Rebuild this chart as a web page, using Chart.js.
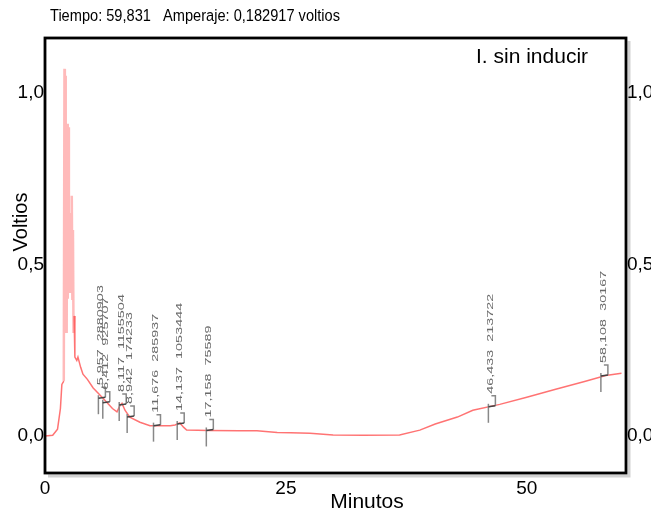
<!DOCTYPE html>
<html>
<head>
<meta charset="utf-8">
<script src="https://cdn.jsdelivr.net/npm/chart.js@4"></script>
<style>
  body { margin: 0; background: #fff; }
</style>
</head>
<body>
<canvas id="chart" width="651" height="513"></canvas>
<script>
// trace: time (min) and voltage (V)
const times = [0, 0.8, 1.3, 1.6, 1.75, 1.95, 2.02, 2.06, 2.1, 2.15, 2.2, 2.25, 2.3, 2.36, 2.42, 2.48, 2.55, 2.6, 2.66, 2.72, 2.78, 2.84, 2.9, 2.96, 3.02, 3.1, 3.3, 3.42, 3.7, 3.94, 4.4, 5.0, 5.5, 6.02, 6.5, 7.0, 7.47, 7.8, 7.99, 8.3, 8.8, 9.85, 10.9, 12, 13, 13.5, 14.0, 14.4, 14.7, 17, 20.2, 22, 24.1, 25.5, 27.5, 29.9, 33, 36.8, 38.9, 40.5, 42.8, 44.4, 47.2, 50, 53, 56, 58.2, 59.831];
const volts = [0, 0.002, 0.02, 0.08, 0.15, 0.16, 1.07, 0.3, 1.05, 0.35, 0.9, 0.3, 0.91, 0.4, 0.9, 0.45, 0.62, 0.42, 0.65, 0.45, 0.7, 0.4, 0.6, 0.3, 0.35, 0.23, 0.22, 0.23, 0.2, 0.18, 0.165, 0.14, 0.125, 0.11, 0.095, 0.08, 0.07, 0.09, 0.095, 0.075, 0.055, 0.04, 0.03, 0.03, 0.03, 0.032, 0.038, 0.025, 0.017, 0.016, 0.015, 0.015, 0.01, 0.009, 0.008, 0.003, 0.002, 0.003, 0.017, 0.035, 0.055, 0.075, 0.092, 0.113, 0.136, 0.159, 0.176, 0.182917];

// integrated peaks: retention time, area, height at the peak
const peakTimes = [5.957, 6.412, 8.117, 8.942, 11.676, 14.137, 17.158, 46.433, 58.108];
const peakAreas = ['2880903', '925707', '1155504', '174233', '285937', '1053444', '75589', '213722', '30167'];
const peakHeights = [0.11, 0.097, 0.09, 0.055, 0.03, 0.035, 0.016, 0.085, 0.175];

const xTicks = [0, 25, 50];
const yTicks = [0, 0.5, 1.0];

const headerText = 'Tiempo: 59,831   Amperaje: 0,182917 voltios';
const sampleName = 'I. sin inducir';

const fmt = v => v.toFixed(1).replace('.', ',');
const FONT = '"Liberation Sans", Arial, sans-serif';

const peakMarks = {
  id: 'peakMarks',
  afterDatasetsDraw(chart) {
    const ctx = chart.ctx;
    const xs = chart.scales.x, ys = chart.scales.y;
    ctx.save();
    peakTimes.forEach((t, i) => {
      const px = xs.getPixelForValue(t);
      const py = ys.getPixelForValue(peakHeights[i]);
      ctx.strokeStyle = '#888';
      ctx.lineWidth = 1.5;
      // drop line under the peak
      ctx.beginPath();
      ctx.moveTo(px - 4, py - 3);
      ctx.lineTo(px - 4, py + 16);
      ctx.stroke();
      // small bracket
      ctx.beginPath();
      ctx.moveTo(px - 1, py - 11);
      ctx.lineTo(px + 3, py - 11);
      ctx.lineTo(px + 3, py - 1);
      ctx.stroke();
      ctx.strokeStyle = '#444';
      ctx.beginPath();
      ctx.moveTo(px - 4, py);
      ctx.lineTo(px + 3, py - 1);
      ctx.stroke();
      // rotated label
      ctx.save();
      ctx.translate(px + 3, py - 13);
      ctx.rotate(-Math.PI / 2);
      ctx.scale(1.6, 1);
      ctx.fillStyle = '#6a6a6a';
      ctx.font = '9px ' + FONT;
      ctx.textAlign = 'left';
      ctx.textBaseline = 'bottom';
      ctx.fillText(peakTimes[i].toFixed(3).replace('.', ',') + '  ' + peakAreas[i], 0, 0);
      ctx.restore();
    });
    ctx.restore();
  }
};

const frameAndText = {
  id: 'frameAndText',
  afterDraw(chart) {
    const ctx = chart.ctx;
    const a = chart.chartArea;
    ctx.save();
    // soft shadow, then frame
    ctx.strokeStyle = 'rgba(0,0,0,0.18)';
    ctx.lineWidth = 3;
    ctx.beginPath();
    ctx.moveTo(a.right + 3, a.top + 3);
    ctx.lineTo(a.right + 3, a.bottom + 3);
    ctx.lineTo(a.left + 3, a.bottom + 3);
    ctx.stroke();
    ctx.strokeStyle = '#000';
    ctx.lineWidth = 2.8;
    ctx.strokeRect(a.left, a.top, a.right - a.left, a.bottom - a.top);

    ctx.fillStyle = '#000';
    ctx.textBaseline = 'alphabetic';
    ctx.textAlign = 'left';
    // header is a little condensed in the original
    ctx.save();
    ctx.translate(50, 21);
    ctx.scale(0.87, 1);
    ctx.font = '16.8px ' + FONT;
    ctx.fillText(headerText, 0, 0);
    ctx.restore();

    ctx.font = '21px ' + FONT;
    ctx.fillText(sampleName, 476, 63);

    ctx.textAlign = 'center';
    ctx.fillText('Minutos', 367, 508);

    ctx.font = '20px ' + FONT;
    ctx.translate(27, 222);
    ctx.rotate(-Math.PI / 2);
    ctx.fillText('Voltios', 0, 0);
    ctx.restore();
  }
};

const tickFont = { family: FONT, size: 19 };

new Chart(document.getElementById('chart'), {
  type: 'line',
  data: {
    datasets: [{
      data: times.map((t, i) => ({ x: t, y: volts[i] })),
      borderColor: 'rgba(255,80,80,0.8)',
      borderWidth: 1.5,
      pointRadius: 0,
      tension: 0,
      segment: {
        borderColor: c => (c.p0.parsed.x >= 1.9 && c.p1.parsed.x <= 3.05) ? 'rgba(255,140,140,0.6)' : undefined,
        borderWidth: c => (c.p0.parsed.x >= 1.9 && c.p1.parsed.x <= 3.05) ? 2.5 : undefined
      }
    }]
  },
  options: {
    responsive: false,
    animation: false,
    layout: { padding: { top: 38, left: 0, right: 0, bottom: 0 } },
    plugins: { legend: { display: false }, tooltip: { enabled: false } },
    scales: {
      x: {
        type: 'linear',
        min: 0,
        max: 60.3,
        grid: { display: false, drawTicks: false },
        border: { display: false },
        afterBuildTicks: s => { s.ticks = xTicks.map(v => ({ value: v })); },
        afterFit: s => { s.height = 40; },
        ticks: { color: '#000', font: tickFont, padding: 4, maxRotation: 0, callback: v => String(v) }
      },
      y: {
        position: 'left',
        min: -0.108,
        max: 1.16,
        grid: { display: false, drawTicks: false },
        border: { display: false },
        afterBuildTicks: s => { s.ticks = yTicks.map(v => ({ value: v })); },
        afterFit: s => { s.width = 45; },
        ticks: { color: '#000', font: tickFont, padding: 1, callback: fmt }
      },
      y2: {
        position: 'right',
        min: -0.108,
        max: 1.16,
        grid: { display: false, drawTicks: false },
        border: { display: false },
        afterBuildTicks: s => { s.ticks = yTicks.map(v => ({ value: v })); },
        afterFit: s => { s.width = 25; },
        ticks: { color: '#000', font: tickFont, padding: 1, callback: fmt }
      }
    }
  },
  plugins: [peakMarks, frameAndText]
});
</script>
</body>
</html>
